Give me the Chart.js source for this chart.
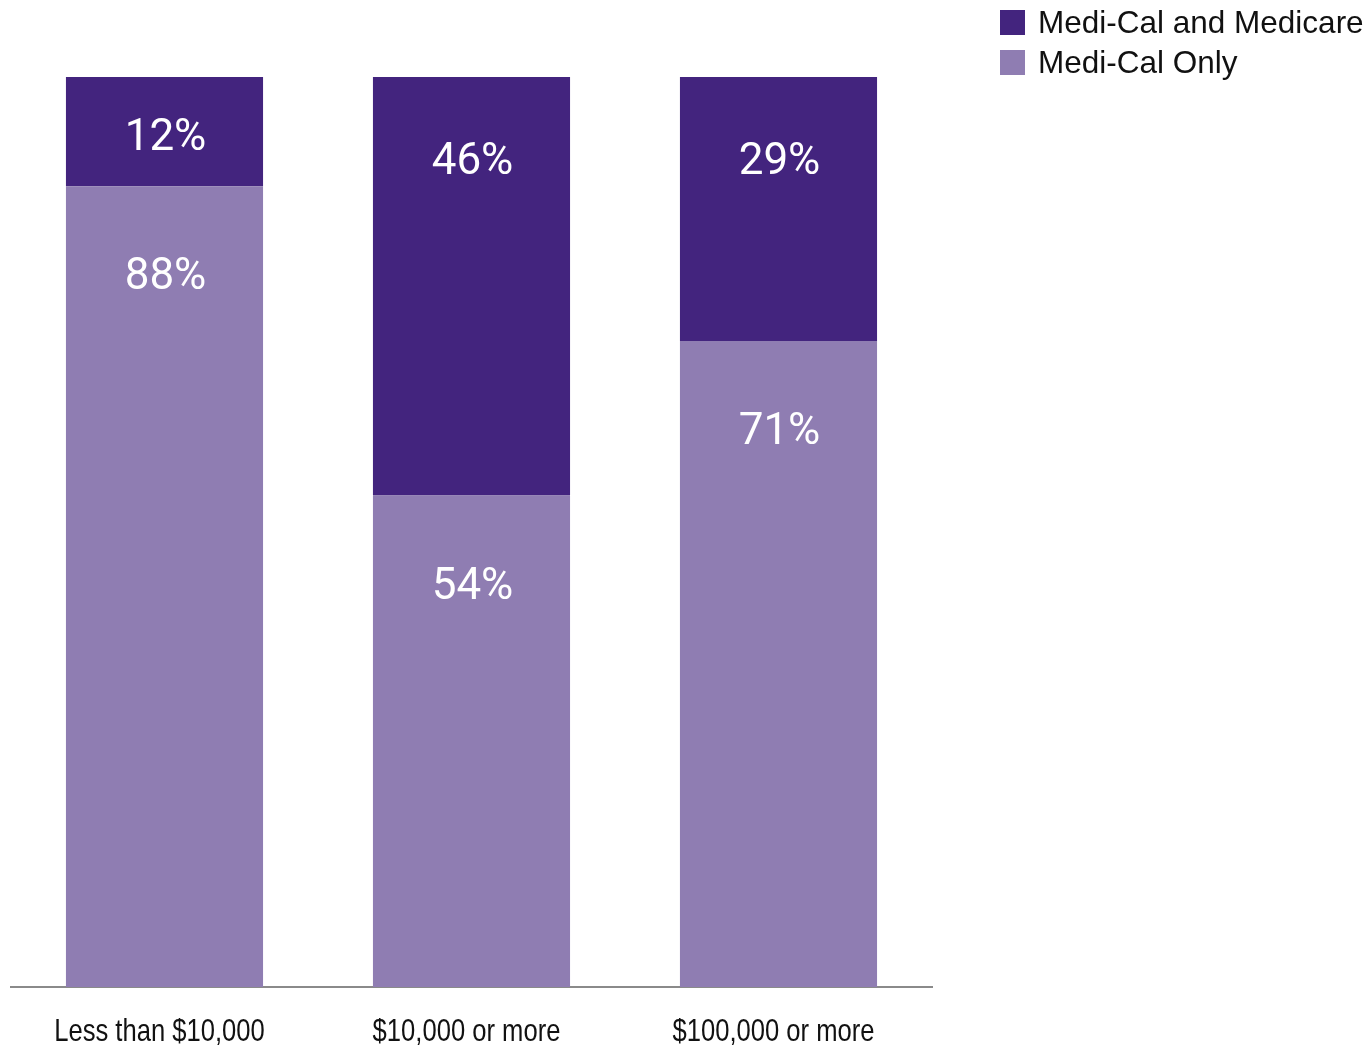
<!DOCTYPE html>
<html>
<head>
<meta charset="utf-8">
<script src="https://cdn.jsdelivr.net/npm/chart.js@4/dist/chart.umd.min.js"></script>
<style>
  html, body { margin: 0; padding: 0; background: #fff; }
  #wrap { width: 1370px; height: 1047px; position: relative; }
</style>
</head>
<body>
<div id="wrap"><canvas id="coverageChart" width="1370" height="1047"></canvas></div>
<script>
// asset groups on the x axis
const categories = ["Less than $10,000", "$10,000 or more", "$100,000 or more"];
// share of enrollees, percent
const mediCalOnly = [88, 54, 71];
const mediCalAndMedicare = [12, 46, 29];
const seriesNames = ["Medi-Cal Only", "Medi-Cal and Medicare"];
const seriesColors = ["#8f7db2", "#43247e"];
// how far below a segment's top its label sits, per series
const labelOffsets = [92, 86];

// white percentage labels inside each segment, set a fixed distance below its top
const segmentLabels = {
    id: 'segmentLabels',
    afterDatasetsDraw(chart) {
        const ctx = chart.ctx;
        ctx.save();
        ctx.fillStyle = '#ffffff';
        ctx.font = '44px Roboto';
        ctx.textAlign = 'center';
        ctx.textBaseline = 'middle';
        chart.data.datasets.forEach((ds, i) => {
            chart.getDatasetMeta(i).data.forEach((bar, j) => {
                const h = bar.base - bar.y;
                const y = bar.y + Math.min(h / 2 + 7, labelOffsets[i]);
                ctx.fillText(ds.data[j] + '%', bar.x + 1, y);
            });
        });
        ctx.restore();
    }
};

// condensed category names under the axis
const categoryLabels = {
    id: 'categoryLabels',
    afterDraw(chart) {
        const ctx = chart.ctx;
        const xs = chart.scales.x;
        ctx.save();
        ctx.fillStyle = '#111111';
        ctx.font = '32px "Liberation Sans"';
        ctx.textAlign = 'center';
        ctx.textBaseline = 'middle';
        chart.data.labels.forEach((lab, i) => {
            const x = xs.getPixelForTick(i);
            ctx.save();
            ctx.translate(x - 5, 1032);
            ctx.scale(0.8, 1);
            ctx.fillText(lab, 0, 0);
            ctx.restore();
        });
        ctx.restore();
    }
};

// legend in the top right corner, top series listed first
const cornerLegend = {
    id: 'cornerLegend',
    afterDraw(chart) {
        const ctx = chart.ctx;
        ctx.save();
        ctx.font = '31.5px "Liberation Sans"';
        ctx.textBaseline = 'middle';
        const items = chart.data.datasets.slice().reverse();
        items.forEach((ds, i) => {
            const y = 10 + i * 40;
            ctx.fillStyle = ds.backgroundColor;
            ctx.fillRect(1000, y, 25, 25);
            ctx.fillStyle = '#111111';
            ctx.fillText(ds.label, 1038, y + 14);
        });
        ctx.restore();
    }
};

new Chart(document.getElementById('coverageChart'), {
    type: 'bar',
    data: {
        labels: categories,
        datasets: [
            { label: seriesNames[0], data: mediCalOnly, backgroundColor: seriesColors[0] },
            { label: seriesNames[1], data: mediCalAndMedicare, backgroundColor: seriesColors[1] }
        ]
    },
    options: {
        responsive: false,
        animation: false,
        layout: { padding: { left: 11, right: 438, top: 77, bottom: 52 } },
        datasets: { bar: { barPercentage: 1, categoryPercentage: 0.642 } },
        plugins: { legend: { display: false }, tooltip: { enabled: false } },
        scales: {
            x: {
                stacked: true,
                grid: { display: false },
                border: { display: true, color: '#8a8a8a', width: 2 },
                ticks: { display: false }
            },
            y: {
                stacked: true,
                display: false,
                min: 0,
                max: 100
            }
        }
    },
    plugins: [segmentLabels, categoryLabels, cornerLegend]
});
</script>
</body>
</html>
